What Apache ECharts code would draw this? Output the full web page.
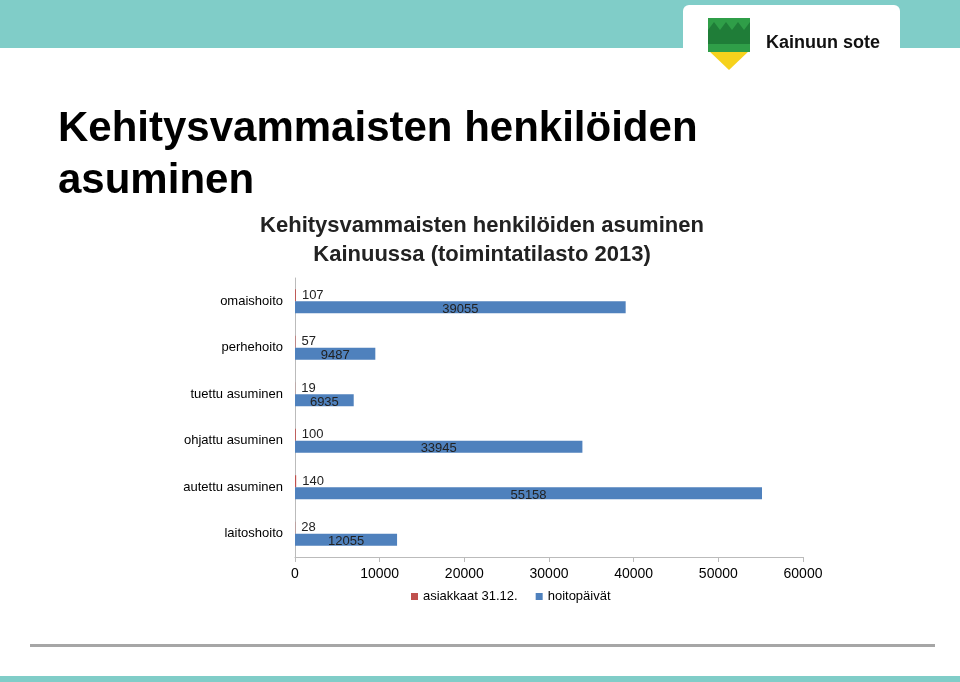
<!DOCTYPE html>
<html><head><meta charset="utf-8">
<script src="https://cdn.jsdelivr.net/npm/echarts@6/dist/echarts.min.js"></script>
<style>html,body{margin:0;padding:0;background:#fff}#c{width:960px;height:682px}</style>
</head><body><div id="c"></div>
<script>
var categories = ["omaishoito", "perhehoito", "tuettu asuminen", "ohjattu asuminen", "autettu asuminen", "laitoshoito"];
var asiakkaat = [107, 57, 19, 100, 140, 28];
var hoitopaivat = [39055, 9487, 6935, 33945, 55158, 12055];

var chart = echarts.init(document.getElementById("c"));
var font = "Liberation Sans, Arial, sans-serif";
chart.setOption({
    textStyle: { fontFamily: font },
    title: {
        text: "Kehitysvammaisten henkilöiden asuminen\nKainuussa (toimintatilasto 2013)",
        left: 477, top: 206, textAlign: "center",
        textStyle: { fontSize: 22, fontWeight: "bold", color: "#222", lineHeight: 29, fontFamily: font }
    },
    legend: {
        bottom: 74, left: 406, itemWidth: 7, itemHeight: 7, itemGap: 18,
        textStyle: { fontSize: 13, color: "#000" },
        data: [{ name: "asiakkaat 31.12.", icon: "rect" }, { name: "hoitopäivät", icon: "rect" }]
    },
    grid: { left: 295, right: 157, top: 278, bottom: 125, containLabel: false },
    xAxis: {
        type: "value", min: 0, max: 60000, interval: 10000,
        axisLine: { show: true, lineStyle: { color: "#bbb" } },
        axisTick: { show: true, length: 5, lineStyle: { color: "#bbb" } },
        splitLine: { show: false },
        axisLabel: { fontSize: 14, color: "#000", margin: 10, formatter: function (v) { return String(v); } }
    },
    yAxis: {
        type: "category", data: categories, inverse: true,
        axisLine: { show: true, lineStyle: { color: "#bbb" } },
        axisTick: { show: false },
        axisLabel: { fontSize: 13, color: "#000", margin: 12 }
    },
    series: [
        {
            name: "asiakkaat 31.12.", type: "bar", data: asiakkaat, barWidth: 12, barGap: "0%",
            itemStyle: { color: "#c0504d" },
            label: { show: true, position: "right", distance: 6, fontSize: 13, color: "#222" }
        },
        {
            name: "hoitopäivät", type: "bar", data: hoitopaivat, barWidth: 12,
            itemStyle: { color: "#4f81bd" },
            label: { show: true, position: "inside", fontSize: 13, color: "#222", offset: [0, 2] }
        }
    ],
    graphic: [
        { type: "rect", shape: { x: 0, y: 0, width: 960, height: 48 }, style: { fill: "#80cdc8" } },
        { type: "rect", shape: { x: 683, y: 5, width: 217, height: 70, r: 6 }, style: { fill: "#fff" } },
        { type: "polygon", shape: { points: [[708, 18], [750, 18], [750, 50], [729, 70], [708, 50]] }, style: { fill: "#f6d21c" } },
        { type: "polygon", shape: { points: [[708, 18], [750, 18], [750, 52], [708, 52]] }, style: { fill: "#2f9e48" } },
        { type: "polygon", shape: { points: [[708, 30], [714, 22], [720, 30], [726, 22], [732, 30], [738, 22], [744, 30], [750, 22], [750, 44], [708, 44]] }, style: { fill: "#1f7d38" } },
        { type: "text", x: 766, y: 34, style: { text: "Kainuun sote", font: "bold 18px " + font, fill: "#111" } },
        { type: "text", x: 58, y: 103, style: { text: "Kehitysvammaisten henkilöiden\nasuminen", font: "bold 42px " + font, fill: "#000", lineHeight: 52 } },
        { type: "rect", shape: { x: 30, y: 644, width: 905, height: 3 }, style: { fill: "#a6a6a6" } },
        { type: "rect", shape: { x: 0, y: 676, width: 960, height: 6 }, style: { fill: "#80cdc8" } }
    ]
});
</script></body></html>
